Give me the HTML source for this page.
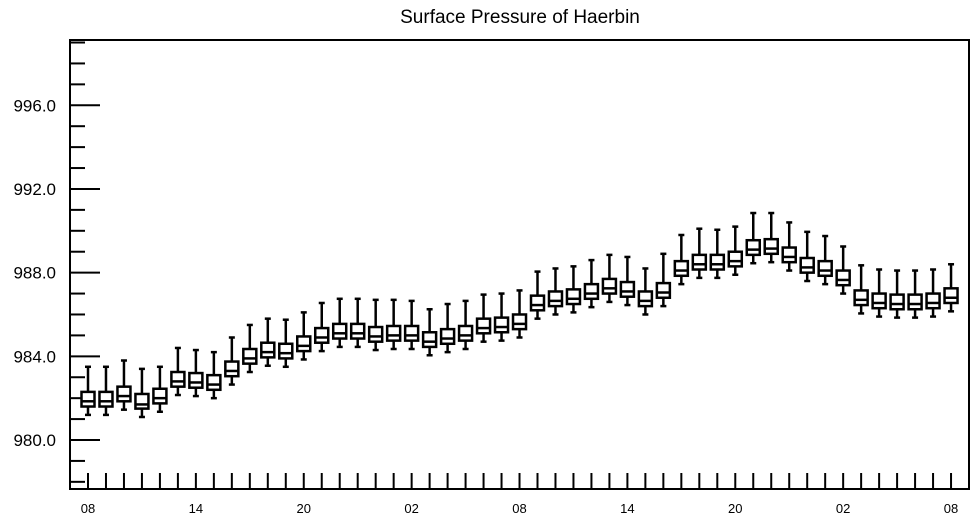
<!DOCTYPE html>
<html><head><meta charset="utf-8"><style>
body{margin:0;background:#fff;}
svg{display:block;font-family:"Liberation Sans",Arial,sans-serif;}
</style></head><body>
<svg id="chart" width="975" height="518" viewBox="0 0 975 518" xmlns="http://www.w3.org/2000/svg">
<text x="520" y="23" text-anchor="middle" font-size="19">Surface Pressure of Haerbin</text>
<g id="ticks"></g>
<g id="boxes"></g>
<rect x="70" y="40" width="899" height="449" fill="none" stroke="#000" stroke-width="2"/>
</svg>
<script>
const maxV=[983.5,983.5,983.8,983.4,983.5,984.4,984.3,984.2,984.9,985.5,985.8,985.75,986.1,986.55,986.75,986.75,986.7,986.7,986.65,986.25,986.5,986.65,986.95,987.0,987.15,988.05,988.2,988.3,988.6,988.85,988.75,988.2,988.9,989.8,990.1,990.05,990.2,990.85,990.85,990.4,989.95,989.75,989.25,988.35,988.15,988.1,988.1,988.15,988.4];
const q3V=[982.3,982.3,982.55,982.2,982.45,983.25,983.2,983.1,983.75,984.35,984.65,984.6,984.95,985.35,985.55,985.55,985.4,985.45,985.45,985.15,985.3,985.45,985.8,985.85,986.0,986.9,987.1,987.2,987.45,987.7,987.55,987.1,987.5,988.55,988.85,988.85,989.0,989.55,989.6,989.2,988.7,988.55,988.1,987.15,987.0,986.95,986.95,987.0,987.25];
const medV=[981.85,981.85,982.1,981.7,982.0,982.8,982.75,982.65,983.3,983.9,984.2,984.15,984.5,984.9,985.1,985.1,984.95,985.0,985.0,984.7,984.85,985.0,985.35,985.4,985.55,986.45,986.65,986.75,987.0,987.25,987.1,986.65,987.05,988.1,988.4,988.4,988.55,989.1,989.15,988.75,988.25,988.1,987.65,986.7,986.55,986.5,986.5,986.55,986.8];
const q1V=[981.6,981.6,981.85,981.5,981.75,982.55,982.5,982.4,983.05,983.65,983.95,983.9,984.25,984.65,984.85,984.85,984.7,984.75,984.75,984.45,984.6,984.75,985.1,985.15,985.3,986.2,986.4,986.5,986.75,987.0,986.85,986.4,986.8,987.85,988.15,988.15,988.3,988.85,988.9,988.5,988.0,987.85,987.4,986.45,986.3,986.25,986.25,986.3,986.55];
const minV=[981.2,981.2,981.45,981.1,981.35,982.15,982.1,982.0,982.65,983.25,983.55,983.5,983.85,984.25,984.45,984.45,984.3,984.35,984.35,984.05,984.2,984.35,984.7,984.75,984.9,985.8,986.0,986.1,986.35,986.6,986.45,986.0,986.4,987.45,987.75,987.75,987.9,988.45,988.5,988.1,987.6,987.45,987.0,986.05,985.9,985.85,985.85,985.9,986.15];
const xLabels=["08","14","20","02","08","14","20","02","08"];
const yLabels=["980.0","984.0","988.0","992.0","996.0"];
const yMajor=[980,984,988,992,996];

const NS="http://www.w3.org/2000/svg";
const X=i=>88+i*17.98;
const Y=v=>440-(v-980)*20.92;
const tg=document.getElementById('ticks'), bg=document.getElementById('boxes');
function mk(tag,attrs,parent){const e=document.createElementNS(NS,tag);for(const k in attrs)e.setAttribute(k,attrs[k]);parent.appendChild(e);return e;}

// y ticks
for(let v=978;v<=999;v++){
  const l=mk('line',{x1:70,x2:yMajor.includes(v)?100:85,y1:Y(v),y2:Y(v),stroke:'#000','stroke-width':2},tg);
  
  
}
yMajor.forEach((v,i)=>{
  const t=mk('text',{x:56,y:Y(v)+6,'text-anchor':'end','font-size':17},tg);
  
  
  t.textContent=yLabels[i];
});
// x ticks
for(let i=0;i<maxV.length;i++){
  const l=mk('line',{x1:X(i),x2:X(i),y1:489,y2:473,stroke:'#000','stroke-width':2},tg);
  
  
}
xLabels.forEach((s,i)=>{
  const t=mk('text',{x:X(i*6),y:513,'text-anchor':'middle','font-size':13},tg);
  
  
  t.textContent=s;
});
// boxes
for(let i=0;i<maxV.length;i++){
  const g=mk('g',{stroke:'#000','stroke-width':2.5,fill:'#fff'},bg);
  
  
  const x=X(i);
  mk('line',{x1:x,x2:x,y1:Y(maxV[i]),y2:Y(q3V[i])},g);
  mk('line',{x1:x-3,x2:x+3,y1:Y(maxV[i]),y2:Y(maxV[i])},g);
  mk('line',{x1:x,x2:x,y1:Y(q1V[i]),y2:Y(minV[i])},g);
  mk('line',{x1:x-3,x2:x+3,y1:Y(minV[i]),y2:Y(minV[i])},g);
  mk('rect',{x:x-6.5,y:Y(q3V[i]),width:13,height:Y(q1V[i])-Y(q3V[i])},g);
  mk('line',{x1:x-6.5,x2:x+6.5,y1:Y(medV[i]),y2:Y(medV[i])},g);
}
</script>
</body></html>
